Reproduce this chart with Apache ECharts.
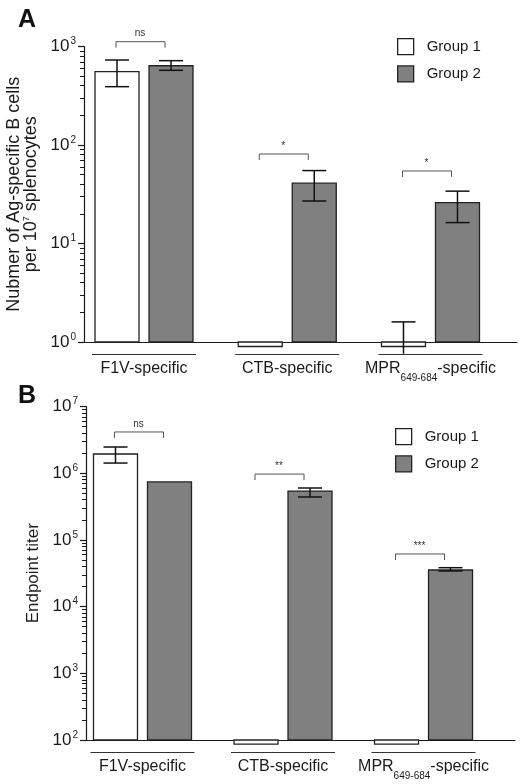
<!DOCTYPE html>
<html><head><meta charset="utf-8">
<script src="https://cdn.jsdelivr.net/npm/echarts@6/dist/echarts.min.js"></script>
<style>html,body{margin:0;padding:0;background:#fff}#c{width:526px;height:784px}</style>
</head><body><div id="c"></div>
<script>
// ---------- data ----------
const categories = ['F1V-specific', 'CTB-specific', 'MPR_{649-684}-specific'];
const seriesNames = ['Group 1', 'Group 2'];

// Panel A: Ag-specific B cells per 10^7 splenocytes
const aGroup1 = [555, 0.9, 0.9];
const aGroup1Low = [391, null, 0.76];
const aGroup1High = [729, null, 1.6];
const aGroup2 = [638, 41, 26];
const aGroup2Low = [573, 27, 16.3];
const aGroup2High = [718, 55, 34];
const aSigLevel = [1119, 81, 54.5];
const aSigText = ['ns', '*', '*'];
const aTickLabels = ['10^0', '10^1', '10^2', '10^3'];

// Panel B: endpoint titer
const bGroup1 = [1.94e6, 87, 87];
const bGroup1Low = [1.42e6, null, null];
const bGroup1High = [2.47e6, null, null];
const bGroup2 = [7.4e5, 5.4e5, 3.54e4];
const bGroup2Low = [null, 4.4e5, 3.42e4];
const bGroup2High = [null, 6.0e5, 3.83e4];
const bSigLevel = [4.15e6, 9.7e5, 6.15e4];
const bSigText = ['ns', '**', '***'];
const bTickLabels = ['10^2', '10^3', '10^4', '10^5', '10^6', '10^7'];

// ---------- helpers ----------
const FONT = 'Liberation Sans, Arial, Helvetica, sans-serif';
const INK = '#1a1a1a';
function tickVals(labels) { return labels.map(s => Math.pow(10, +s.split('^')[1])); }
function minorVals(labels) {
  const out = []; const majors = tickVals(labels);
  for (let k = 0; k < majors.length - 1; k++) for (let m = 2; m <= 9; m++) out.push(majors[k] * m);
  return out;
}
function catLabel(v) {
  const name = categories[Math.round(v)];
  if (name == null) return '';
  return '{ln|}\n{t|' + name.replace(/_\{([^}]*)\}/, '}{s|$1}{t|') + '}';
}
const catRich = {
  ln: { width: 104, height: 1, lineHeight: 1, fontSize: 1, backgroundColor: '#333' },
  t: { fontSize: 16, lineHeight: 28, color: INK, fontFamily: FONT },
  s: { fontSize: 10, lineHeight: 13, color: INK, fontFamily: FONT, verticalAlign: 'bottom' }
};
const yRich = {
  b: { fontSize: 17, color: INK, fontFamily: FONT, lineHeight: 20 },
  p: { fontSize: 10, color: INK, fontFamily: FONT, verticalAlign: 'top', lineHeight: 20, padding: [0, 0, 0, 1] }
};
function yLabel(v) { const e = Math.round(Math.log10(v)); return '{b|10}{p|' + e + '}'; }

function barRenderer(lows, highs, offset, fill, yMin) {
  return function (params, api) {
    const i = params.dataIndex;
    const xi = api.value(0), v = api.value(1);
    const basePt = api.coord([xi, yMin]);
    const topPt = api.coord([xi, v]);
    const cx = basePt[0] + offset;
    const children = [{
      type: 'rect',
      shape: { x: cx - 22, y: Math.min(basePt[1], topPt[1]), width: 44, height: Math.abs(basePt[1] - topPt[1]) },
      style: { fill: fill, stroke: '#222', lineWidth: 1.3 }
    }];
    const lo = lows[i], hi = highs[i];
    if (lo != null && hi != null) {
      const yHi = api.coord([xi, hi])[1], yLo = api.coord([xi, lo])[1];
      const st = { stroke: '#111', lineWidth: 1.5 };
      children.push({ type: 'line', shape: { x1: cx, y1: yHi, x2: cx, y2: yLo }, style: st });
      children.push({ type: 'line', shape: { x1: cx - 12, y1: yHi, x2: cx + 12, y2: yHi }, style: st });
      if (lo >= yMin) children.push({ type: 'line', shape: { x1: cx - 12, y1: yLo, x2: cx + 12, y2: yLo }, style: st });
    }
    return { type: 'group', children: children };
  };
}
function sigRenderer(texts) {
  return function (params, api) {
    const p = api.coord([api.value(0), api.value(1)]);
    const x1 = p[0] - 28, x2 = p[0] + 21, y = p[1];
    return {
      type: 'group', children: [
        { type: 'polyline', shape: { points: [[x1, y + 6], [x1, y], [x2, y], [x2, y + 6]] }, style: { stroke: '#555', lineWidth: 1, fill: null } },
        { type: 'text', style: { text: texts[params.dataIndex], x: p[0] - 4, y: y - 3, align: 'center', verticalAlign: 'bottom', fill: '#333', fontSize: 10, fontFamily: FONT } }
      ]
    };
  };
}

function xAxisFor(grid, min, max) {
  return {
    type: 'value', gridIndex: grid, min: min, max: max, position: 'bottom',
    axisLine: { show: true, onZero: false, lineStyle: { color: INK, width: 1.2 } },
    axisTick: { show: false }, splitLine: { show: false },
    axisLabel: { show: true, customValues: [0, 1, 2], formatter: catLabel, rich: catRich, margin: 12, color: INK }
  };
}
function yAxesFor(grid, labels, name, nameGap, nameSize, nameRich) {
  const vals = tickVals(labels);
  const min = vals[0], max = vals[vals.length - 1];
  return [{
    type: 'log', logBase: 10, gridIndex: grid, min: min, max: max, position: 'left', offset: 0,
    name: name, nameLocation: 'middle', nameRotate: 90, nameGap: nameGap,
    nameTextStyle: { fontSize: nameSize, color: INK, fontFamily: FONT, lineHeight: 17, rich: nameRich || {} },
    axisLine: { show: true, onZero: false, lineStyle: { color: INK, width: 1.2 } },
    axisTick: { show: true, length: 6, customValues: vals, lineStyle: { color: INK, width: 1.2 } },
    axisLabel: { show: true, customValues: vals, formatter: yLabel, rich: yRich, margin: 8 },
    splitLine: { show: false }, minorTick: { show: false }
  }, {
    type: 'log', logBase: 10, gridIndex: grid, min: min, max: max, position: 'left', offset: 0,
    axisLine: { show: false, onZero: false }, axisLabel: { show: false }, splitLine: { show: false },
    axisTick: { show: true, length: 4, customValues: minorVals(labels), lineStyle: { color: INK, width: 1 } }
  }];
}

const aMin = tickVals(aTickLabels)[0], bMin = tickVals(bTickLabels)[0];
const legendData = [
  { name: seriesNames[0], itemStyle: { color: '#ffffff', borderColor: '#222', borderWidth: 1.3 } },
  { name: seriesNames[1], itemStyle: { color: '#808080', borderColor: '#222', borderWidth: 1.3 } }
];
function legendAt(left, top) {
  return {
    data: legendData, orient: 'vertical', left: left, top: top, padding: 0, icon: 'rect',
    itemWidth: 16, itemHeight: 16, itemGap: 10,
    textStyle: { fontSize: 15, color: INK, fontFamily: FONT, padding: [0, 0, 0, 8] }
  };
}

const option = {
  animation: false,
  backgroundColor: '#fff',
  textStyle: { fontFamily: FONT },
  title: [
    { text: 'A', left: 18, top: 8, padding: 0, textStyle: { fontSize: 25, fontWeight: 'bold', color: '#111', fontFamily: FONT } },
    { text: 'B', left: 18, top: 384, padding: 0, textStyle: { fontSize: 25, fontWeight: 'bold', color: '#111', fontFamily: FONT } }
  ],
  legend: [legendAt(397, 38), legendAt(395, 428)],
  grid: [
    { left: 84, top: 46.5, width: 433, height: 295.5, containLabel: false, outerBoundsMode: 'none' },
    { left: 86, top: 406.5, width: 429, height: 333.5, containLabel: false, outerBoundsMode: 'none' }
  ],
  xAxis: [xAxisFor(0, -0.419, 2.604), xAxisFor(1, -0.402, 2.651)],
  yAxis: [
    ...yAxesFor(0, aTickLabels, 'Nubmer of Ag-specific B cells\nper 10{sup|7} splenocytes', 43, 18,
      { sup: { fontSize: 9, verticalAlign: 'top', lineHeight: 17, color: INK, fontFamily: FONT } }),
    ...yAxesFor(1, bTickLabels, 'Endpoint titer', 40, 17)
  ],
  series: [
    { type: 'custom', name: seriesNames[0], xAxisIndex: 0, yAxisIndex: 0, clip: false, itemStyle: { color: '#fff', borderColor: '#222' },
      data: aGroup1.map((v, i) => [i, v]), encode: { x: 0, y: 1 },
      renderItem: barRenderer(aGroup1Low, aGroup1High, -27, '#ffffff', aMin) },
    { type: 'custom', name: seriesNames[1], xAxisIndex: 0, yAxisIndex: 0, clip: false, itemStyle: { color: '#808080', borderColor: '#222' },
      data: aGroup2.map((v, i) => [i, v]), encode: { x: 0, y: 1 },
      renderItem: barRenderer(aGroup2Low, aGroup2High, 27, '#808080', aMin) },
    { type: 'custom', xAxisIndex: 0, yAxisIndex: 0, clip: false, silent: true,
      data: aSigLevel.map((v, i) => [i, v]), encode: { x: 0, y: 1 },
      renderItem: sigRenderer(aSigText) },
    { type: 'custom', name: seriesNames[0], xAxisIndex: 1, yAxisIndex: 2, clip: false, itemStyle: { color: '#fff', borderColor: '#222' },
      data: bGroup1.map((v, i) => [i, v]), encode: { x: 0, y: 1 },
      renderItem: barRenderer(bGroup1Low, bGroup1High, -27, '#ffffff', bMin) },
    { type: 'custom', name: seriesNames[1], xAxisIndex: 1, yAxisIndex: 2, clip: false, itemStyle: { color: '#808080', borderColor: '#222' },
      data: bGroup2.map((v, i) => [i, v]), encode: { x: 0, y: 1 },
      renderItem: barRenderer(bGroup2Low, bGroup2High, 27, '#808080', bMin) },
    { type: 'custom', xAxisIndex: 1, yAxisIndex: 2, clip: false, silent: true,
      data: bSigLevel.map((v, i) => [i, v]), encode: { x: 0, y: 1 },
      renderItem: sigRenderer(bSigText) }
  ]
};
const chart = echarts.init(document.getElementById('c'), null, { renderer: 'canvas' });
chart.setOption(option);
</script></body></html>
